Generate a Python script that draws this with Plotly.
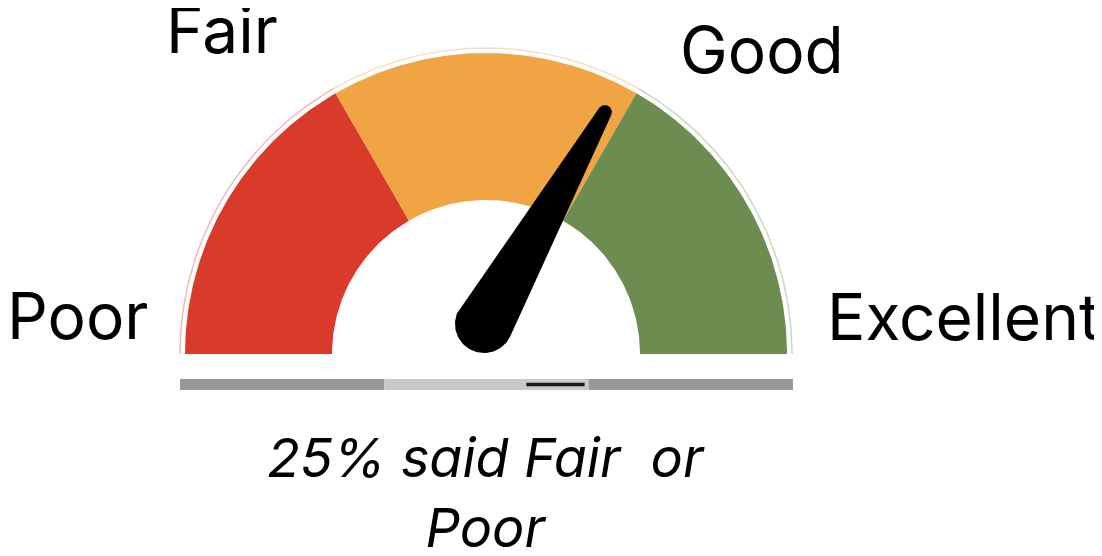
import numpy as np
import plotly.graph_objects as go

# gauge bands (share of the dial, left -> right)
band_names = ['Poor', 'Fair', 'Good']
band_shares = [1 / 3, 1 / 3, 1 / 3]
band_colors = ['#D93A29', '#F0A443', '#6D8C50']
band_rims = ['rgba(217,58,41,0.35)', 'rgba(240,164,67,0.35)', 'rgba(109,140,80,0.35)']

# dial labels
dial_labels = ['Poor', 'Fair', 'Good', 'Excellent']
dial_label_xy = [(77, 315), (222, 29), (762, 49), (963, 316)]

needle_value = 0.665   # position on a 0..1 dial

# base bar under the dial
bar_shares = [1 / 3, 1 / 3, 1 / 3]
bar_colors = ['#96999C', '#C5C9C8', '#96999C']
marker_span = (0.565, 0.66)

caption = '25% said Fair  or<br>Poor'

# page has an 8px body margin; axes are set so data units == page pixels
PAD = 8
W, H = 1102 - PAD, 556 - PAD
cx, cy = 486, 354
r_out, r_in, r_rim = 301, 154, 306


def ang(v):
    return np.pi * (1 - v)


fig = go.Figure()

start = 0.0
for name, share, col, rim in zip(band_names, band_shares, band_colors, band_rims):
    t = np.linspace(ang(start), ang(start + share), 80)
    xs = np.concatenate([cx + r_out * np.cos(t), cx + r_in * np.cos(t[::-1])])
    ys = np.concatenate([cy - r_out * np.sin(t), cy - r_in * np.sin(t[::-1])])
    fig.add_trace(go.Scatter(x=xs, y=ys, fill='toself', fillcolor=col,
                             mode='lines', line=dict(width=0), hoverinfo='skip', name=name))
    fig.add_trace(go.Scatter(x=cx + r_rim * np.cos(t), y=cy - r_rim * np.sin(t),
                             mode='lines', line=dict(color=rim, width=1.5), hoverinfo='skip'))
    start += share

# needle: hull of two circles
px0, py0, rb = 484, 324, 29
L, rt = 244, 7
th = ang(needle_value)
a = np.arccos((rb - rt) / L)
tip_t = np.linspace(th - a, th + a, 30)
base_t = np.linspace(th + a, th + 2 * np.pi - a, 60)
tx, ty = px0 + L * np.cos(th), py0 - L * np.sin(th)
nx = np.concatenate([tx + rt * np.cos(tip_t), px0 + rb * np.cos(base_t)])
ny = np.concatenate([ty - rt * np.sin(tip_t), py0 - rb * np.sin(base_t)])
fig.add_trace(go.Scatter(x=nx, y=ny, fill='toself', fillcolor='#000000',
                         mode='lines', line=dict(width=0), hoverinfo='skip'))

# base bar
x_left, x_right = 180, 793
span = x_right - x_left
pos = 0.0
for share, col in zip(bar_shares, bar_colors):
    fig.add_shape(type='rect', x0=x_left + pos * span, x1=x_left + (pos + share) * span,
                  y0=379, y1=390, fillcolor=col, line=dict(width=0), layer='above')
    pos += share
fig.add_shape(type='line', x0=x_left + marker_span[0] * span, x1=x_left + marker_span[1] * span,
              y0=384.5, y1=384.5, line=dict(color='#1A1A1A', width=3.5), layer='above')

for txt, (x, y) in zip(dial_labels, dial_label_xy):
    fig.add_annotation(x=x, y=y, text=txt, showarrow=False, xanchor='center', yanchor='middle',
                       font=dict(family='Inter', size=64, color='#000000'))

fig.add_annotation(x=486, y=492, text=caption, showarrow=False, xanchor='center', yanchor='middle',
                   font=dict(family='Inter', size=54, color='#000000', style='italic'))

fig.update_layout(
    width=W, height=H, margin=dict(l=0, r=0, t=0, b=0),
    paper_bgcolor='white', plot_bgcolor='white', showlegend=False,
    xaxis=dict(range=[PAD, PAD + W], visible=False, fixedrange=True),
    yaxis=dict(range=[PAD + H, PAD], visible=False, fixedrange=True),
)
fig.write_html('out.html')
